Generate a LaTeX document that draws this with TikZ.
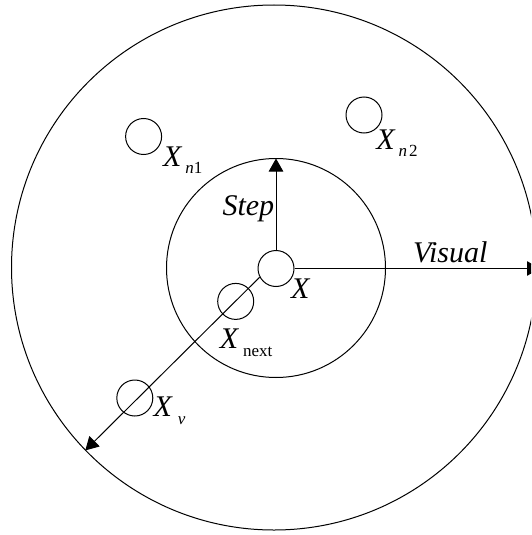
\documentclass[tikz,border=0pt]{standalone}
\usepackage{fontspec}
\setmainfont{Liberation Serif}
\usetikzlibrary{arrows.meta}
\newcommand{\bigfnt}{\fontsize{30}{36}\selectfont}
\newcommand{\subfnt}{\fontsize{17}{20}\selectfont}
\newcommand{\Xsub}[2][3pt]{\textit{X}\kern#1\raisebox{-7.5pt}{\subfnt #2}}
\begin{document}
\begin{tikzpicture}[x=1pt,y=-1pt,line width=1pt,
  pt/.style={circle,draw,minimum size=36pt,inner sep=0pt},
  lbl/.style={anchor=base west,inner sep=0pt,font=\bigfnt},
  arr/.style={-{Triangle[width=14.5pt,length=13pt]}}]
\useasboundingbox (0,0) rectangle (531,535);
\clip (0,0) rectangle (531,535);
% outer (visual) and inner (step) circles
\draw (274,267.5) circle[radius=262.5];
\draw (276,268) circle[radius=109.5];
% points
\node[pt] (X) at (276,268.5) {};
\node[pt] (Xn1) at (143.6,136.5) {};
\node[pt] (Xn2) at (364,115) {};
\node[pt] (Xnext) at (235.7,301.4) {};
\node[pt] (Xv) at (134.8,398) {};
% arrow ends
\coordinate (steptip) at (276,158.5);
\coordinate (vistip) at (540,268.5);
\coordinate (vtip) at (85.3,450.4);
\draw[arr] (X.north) -- (steptip);
\draw[arr] (X.east) -- (vistip);
\draw[arr] (X.208) -- (vtip);
% labels
\node[lbl] (lXn1) at (162.5,166) {\Xsub{\textit{n}1}};
\node[lbl] (lXn2) at (375.9,149) {\Xsub{\textit{n}\kern2pt 2}};
\node[lbl] (lX) at (290.5,298) {\textit{X}};
\node[lbl] (lXnext) at (219.4,348.8) {\Xsub[4pt]{next}};
\node[lbl] (lXv) at (153,416.5) {\Xsub[5pt]{\textit{v}}};
\node[lbl] (lStep) at (222,215) {\textit{Step}};
\node[lbl] (lVisual) at (412.5,262.4) {\textit{Visual}};
\end{tikzpicture}
\end{document}
